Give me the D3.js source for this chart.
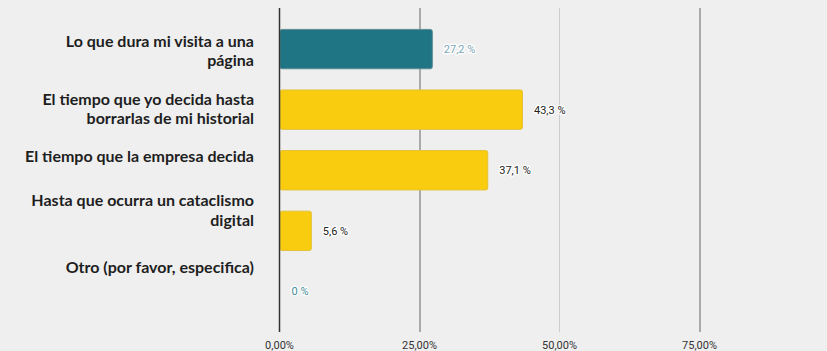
<!DOCTYPE html>
<html><head><meta charset="utf-8">
<script src="https://cdn.jsdelivr.net/npm/d3@7"></script>
<style>
html,body{margin:0;padding:0;background:#efefef;}
svg{display:block;}
</style></head>
<body>
<svg id="chart" width="827" height="351"></svg>
<script>
const categories = [
  ["Lo que dura mi visita a una", "página"],
  ["El tiempo que yo decida hasta", "borrarlas de mi historial"],
  ["El tiempo que la empresa decida"],
  ["Hasta que ocurra un cataclismo", "digital"],
  ["Otro (por favor, especifica)"]
];
const values = [27.2, 43.3, 37.1, 5.6, 0];
const valueLabels = ["27,2 %", "43,3 %", "37,1 %", "5,6 %", "0 %"];
const highlighted = [true, false, false, false, true];
const tickValues = [0, 25, 50, 75];
const tickLabels = ["0,00%", "25,00%", "50,00%", "75,00%"];

const svg = d3.select("#chart");
const x = d3.scaleLinear().domain([0, 100]).range([279.5, 839.5]);
const ids = d3.range(values.length);
const y = d3.scaleBand().domain(ids).range([18.5, 322]).paddingInner(0.35).paddingOuter(0.18);

// grid lines
const gridStyle = {25: {c: "#aaaaaa", w: 2}, 50: {c: "#cccccc", w: 1}, 75: {c: "#aaaaaa", w: 2}};
svg.append("g").selectAll("line").data(tickValues.filter(t => t > 0)).join("line")
  .attr("x1", d => x(d) + (gridStyle[d].w === 2 ? 0.5 : 0)).attr("x2", d => x(d) + (gridStyle[d].w === 2 ? 0.5 : 0))
  .attr("y1", 8).attr("y2", 332)
  .attr("stroke", d => gridStyle[d].c).attr("stroke-width", d => gridStyle[d].w);

// bars
svg.append("g").selectAll("rect").data(ids.filter(i => values[i] > 0)).join("rect")
  .attr("x", x(0) + 0.5)
  .attr("y", i => y(i))
  .attr("width", i => x(values[i]) - x(0))
  .attr("height", y.bandwidth())
  .attr("rx", 2)
  .attr("fill", i => highlighted[i] ? "#1f7583" : "#facc0f")
  .attr("stroke", i => highlighted[i] ? "#5e8a92" : "#e2c23a")
  .attr("stroke-width", 1);

// zero axis line
svg.append("line").attr("x1", x(0)).attr("x2", x(0)).attr("y1", 8).attr("y2", 332)
  .attr("stroke", "#333").attr("stroke-width", 1.5);

// value labels
svg.append("g").selectAll("text").data(ids).join("text")
  .attr("x", i => x(values[i]) + 12)
  .attr("y", i => y(i) + y.bandwidth() / 2 + 4)
  .attr("font-family", "Roboto, sans-serif").attr("font-size", 11)
  .attr("fill", i => i === 0 ? "#7aa6b6" : (highlighted[i] ? "#3f8c98" : "#222"))
  .attr("stroke", "#fff").attr("stroke-width", 2.5).attr("stroke-linejoin", "round")
  .attr("paint-order", "stroke")
  .text(i => valueLabels[i]);

// x tick labels
svg.append("g").selectAll("text").data(tickValues).join("text")
  .attr("x", d => x(d)).attr("y", 348.5)
  .attr("text-anchor", "middle")
  .attr("font-family", "Roboto, sans-serif").attr("font-size", 11).attr("fill", "#333")
  .text((d, i) => tickLabels[i]);

// category labels (positioned relative to each band, with per-row nudges as in the original layout)
const labelNudge = [2, -0.75, -13.8, -20.5, -24];
const lineH = 19.4;
const cat = svg.append("g").attr("font-family", "Lato, 'Open Sans', sans-serif").attr("font-weight", 700)
  .attr("font-size", 16).attr("fill", "#1e1e1e").attr("text-anchor", "end");
ids.forEach(i => {
  const lines = categories[i];
  const c = y(i) + y.bandwidth() / 2 + labelNudge[i];
  const first = c - (lines.length - 1) * lineH / 2 + 5.5;
  const t = cat.append("text").attr("x", 254);
  lines.forEach((ln, k) => t.append("tspan").attr("x", 254).attr("y", first + k * lineH).text(ln));
});
</script>
</body></html>
